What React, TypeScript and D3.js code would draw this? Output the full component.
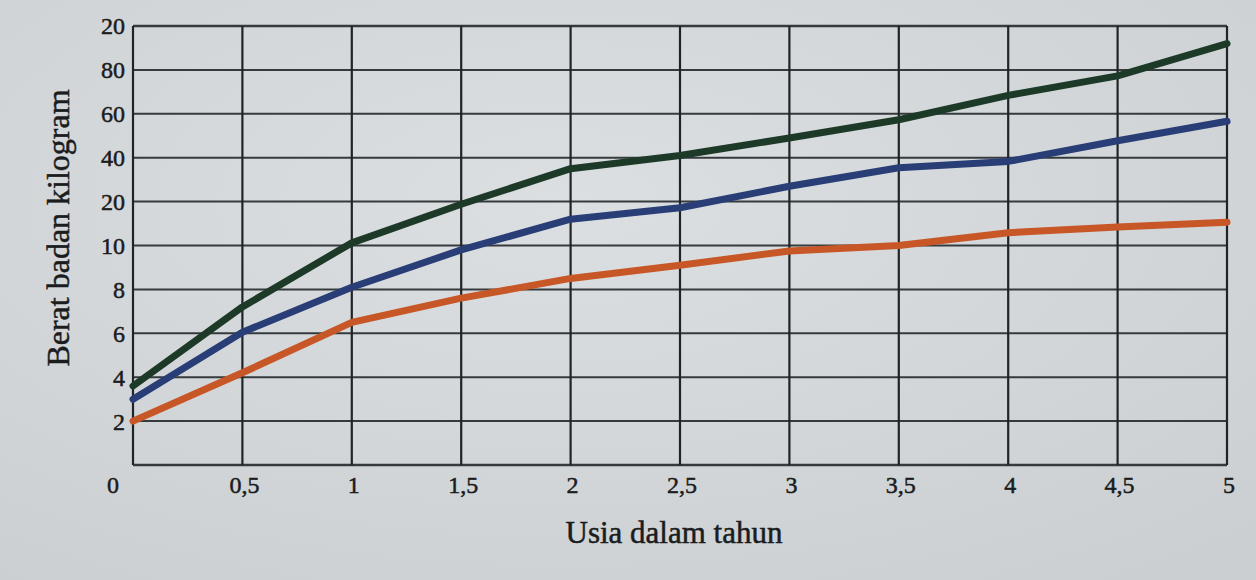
import React, { useEffect, useRef } from 'react';
import * as d3 from 'd3';

// ages in years (x axis)
const ages = [0, 0.5, 1, 1.5, 2, 2.5, 3, 3.5, 4, 4.5, 5];
const xTickLabels = ['0', '0,5', '1', '1,5', '2', '2,5', '3', '3,5', '4', '4,5', '5'];

// y axis is not linear: each printed value sits on an evenly spaced grid line
const yBreaks = [0, 2, 4, 6, 8, 10, 20, 40, 60, 80, 100];
const yTickLabels = ['0', '2', '4', '6', '8', '10', '20', '40', '60', '80', '20'];

// weights in kg
const greenSeries = [3.6, 7.2, 10.6, 19.4, 35, 41, 49, 57.3, 68.4, 77.3, 92];
const blueSeries = [3.0, 6.05, 8.1, 9.8, 16, 18.6, 27, 35.4, 38.3, 47.7, 56.6];
const orangeSeries = [2.0, 4.2, 6.5, 7.6, 8.5, 9.1, 9.75, 10.0, 12.9, 14.2, 15.3];

const seriesList = [
  { name: 'orange', values: orangeSeries, color: '#c85727' },
  { name: 'blue', values: blueSeries, color: '#293e77' },
  { name: 'green', values: greenSeries, color: '#1d3a29' },
];

const W = 1256;
const H = 580;
const plot = { left: 133, right: 1227, top: 26, bottom: 465 };

const App: React.FC = () => {
  const svgRef = useRef<SVGSVGElement>(null);

  useEffect(() => {
    if (!svgRef.current) return;
    const svg = d3.select(svgRef.current);
    svg.selectAll('*').remove();

    const x = d3.scaleLinear().domain([0, 5]).range([plot.left, plot.right]);
    const step = (plot.bottom - plot.top) / (yBreaks.length - 1);
    const y = d3
      .scaleLinear()
      .domain(yBreaks)
      .range(yBreaks.map((_, i) => plot.bottom - i * step));

    // paper background
    const defs = svg.append('defs');
    const grad = defs
      .append('radialGradient')
      .attr('id', 'paper')
      .attr('cx', '45%')
      .attr('cy', '35%')
      .attr('r', '80%');
    grad.append('stop').attr('offset', '0%').attr('stop-color', '#dcdfe1');
    grad.append('stop').attr('offset', '100%').attr('stop-color', '#cbcfd1');
    svg.append('rect').attr('width', W).attr('height', H).attr('fill', 'url(#paper)');

    // grid
    const grid = svg.append('g').attr('stroke', '#353a3c');
    grid
      .selectAll('line.h')
      .data(yBreaks)
      .enter()
      .append('line')
      .attr('class', 'h')
      .attr('x1', plot.left)
      .attr('x2', plot.right)
      .attr('y1', (d) => y(d))
      .attr('y2', (d) => y(d))
      .attr('stroke-width', (d, i) => (i === 0 || i === yBreaks.length - 1 ? 2.5 : 2));
    grid
      .selectAll('line.v')
      .data(ages)
      .enter()
      .append('line')
      .attr('class', 'v')
      .attr('x1', (d) => x(d))
      .attr('x2', (d) => x(d))
      .attr('y1', plot.top)
      .attr('y2', plot.bottom)
      .attr('stroke', '#1f2426')
      .attr('stroke-width', 2.2);

    // data lines
    const line = d3
      .line<number>()
      .x((_, i) => x(ages[i]))
      .y((d) => y(d));

    svg
      .append('g')
      .selectAll('path')
      .data(seriesList)
      .enter()
      .append('path')
      .attr('d', (s) => line(s.values))
      .attr('fill', 'none')
      .attr('stroke', (s) => s.color)
      .attr('stroke-width', 7)
      .attr('stroke-linejoin', 'round')
      .attr('stroke-linecap', 'round');

    const font = '"Liberation Serif", "DejaVu Serif", serif';
    const ink = '#1a1c1d';

    // y tick labels (0 is shared with the x axis)
    svg
      .append('g')
      .selectAll('text')
      .data(yBreaks.slice(1))
      .enter()
      .append('text')
      .attr('x', plot.left - 8)
      .attr('y', (d) => y(d))
      .attr('dy', '0.35em')
      .attr('text-anchor', 'end')
      .attr('font-family', font)
      .attr('font-size', 24)
      .attr('fill', ink)
      .attr('stroke', ink)
      .attr('stroke-width', 0.5)
      .text((_, i) => yTickLabels[i + 1]);

    // x tick labels
    svg
      .append('g')
      .selectAll('text')
      .data(ages)
      .enter()
      .append('text')
      .attr('x', (d, i) => (i === 0 ? x(d) - 20 : x(d) + 2))
      .attr('y', plot.bottom + 28)
      .attr('text-anchor', 'middle')
      .attr('font-family', font)
      .attr('font-size', 24)
      .attr('fill', ink)
      .attr('stroke', ink)
      .attr('stroke-width', 0.5)
      .text((_, i) => xTickLabels[i]);

    // axis titles
    svg
      .append('text')
      .attr('x', 674)
      .attr('y', 543)
      .attr('text-anchor', 'middle')
      .attr('font-family', font)
      .attr('font-size', 31)
      .attr('fill', ink)
      .attr('stroke', ink)
      .attr('stroke-width', 0.5)
      .text('Usia dalam tahun');

    svg
      .append('text')
      .attr('transform', 'translate(58,228) rotate(-90)')
      .attr('dy', '0.35em')
      .attr('text-anchor', 'middle')
      .attr('font-family', font)
      .attr('font-size', 32)
      .attr('fill', ink)
      .attr('stroke', ink)
      .attr('stroke-width', 0.5)
      .text('Berat badan kilogram');
  }, []);

  return (
    <svg
      ref={svgRef}
      width={W}
      height={H}
      style={{ position: 'absolute', left: 0, top: 0, display: 'block' }}
    />
  );
};

export default App;
